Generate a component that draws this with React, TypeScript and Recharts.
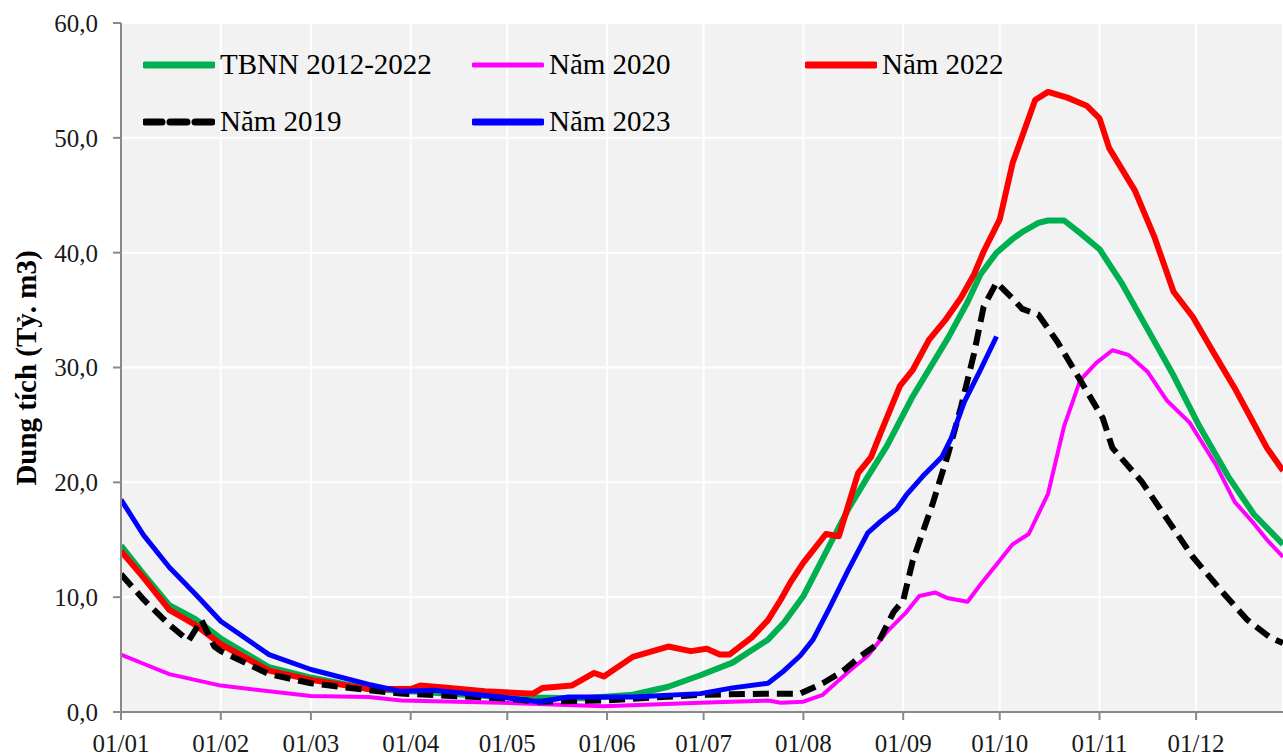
import React from 'react';
import { LineChart, Line, XAxis, YAxis, CartesianGrid, Legend } from 'recharts';

// day-of-year positions of the month ticks and their labels
const monthDays = [0, 31, 59, 90, 120, 151, 181, 212, 243, 273, 304, 334];
const monthLabels = ['01/01', '01/02', '01/03', '01/04', '01/05', '01/06', '01/07', '01/08', '01/09', '01/10', '01/11', '01/12'];
const yTicks = [0, 10, 20, 30, 40, 50, 60];

// [day, volume]
const tbnn = [
  [0, 14.5], [7, 12.0], [15, 9.3], [23, 8.1], [31, 6.4], [46, 3.9], [59, 3.0], [77, 2.0], [90, 1.8],
  [118, 1.3], [144, 1.2], [159, 1.5], [170, 2.2], [180, 3.2], [190, 4.3], [201, 6.3], [206, 7.8],
  [212, 10.1], [221, 15.0], [226, 17.7], [232, 20.5], [238, 23.2], [246, 27.5],
  [257, 32.6], [263, 35.7], [267, 38.1], [272, 40.0], [277, 41.2], [280, 41.8], [285, 42.6],
  [288, 42.8], [293, 42.8], [298, 41.7], [304, 40.3], [311, 37.3], [319, 33.3], [327, 29.3],
  [335, 24.9], [344, 20.5], [352, 17.2], [361, 14.6],
];
const nam2020 = [
  [0, 5.0], [7, 4.2], [15, 3.3], [23, 2.8], [31, 2.3], [46, 1.8], [59, 1.4], [77, 1.3], [87, 1.0],
  [118, 0.8], [150, 0.5], [180, 0.8], [201, 1.0], [205, 0.8], [212, 0.9], [218, 1.5], [226, 3.5],
  [232, 4.9], [238, 7.0], [244, 8.7], [248, 10.1], [253, 10.4], [257, 9.9], [263, 9.6], [267, 11.1],
  [273, 13.2], [277, 14.6], [282, 15.5], [288, 19.0], [293, 24.9], [298, 28.9], [303, 30.4],
  [308, 31.5], [313, 31.1], [319, 29.6], [325, 27.1], [332, 25.2], [340, 21.6], [346, 18.3],
  [352, 16.4], [356, 15.0], [361, 13.5],
];
const nam2022 = [
  [0, 14.0], [7, 11.7], [15, 8.9], [23, 7.6], [31, 5.9], [46, 3.6], [59, 2.8], [77, 2.0], [90, 2.0],
  [93, 2.3], [102, 2.1], [113, 1.8], [128, 1.6], [131, 2.1], [140, 2.3], [147, 3.4], [150, 3.1],
  [159, 4.8], [170, 5.7], [177, 5.3], [182, 5.5], [186, 5.0], [189, 5.0], [196, 6.5], [201, 8.0],
  [205, 9.8], [208, 11.3], [212, 13.0], [219, 15.5], [223, 15.3], [229, 20.8], [233, 22.2],
  [236, 24.3], [242, 28.4], [246, 29.8], [251, 32.4], [256, 34.1], [261, 36.1], [265, 38.1],
  [268, 40.1], [273, 42.9], [277, 47.8], [284, 53.3], [288, 54.0], [294, 53.5], [300, 52.8],
  [304, 51.7], [307, 49.1], [315, 45.4], [321, 41.4], [327, 36.6], [333, 34.4], [339, 31.5],
  [346, 28.2], [351, 25.6], [356, 23.0], [361, 21.0],
];
const nam2019 = [
  [0, 12.0], [7, 9.8], [15, 7.6], [21, 6.2], [25, 8.0], [29, 5.7], [31, 5.3], [46, 3.3], [59, 2.5],
  [77, 1.9], [87, 1.6], [118, 1.2], [130, 0.9], [150, 1.0], [180, 1.5], [201, 1.6], [211, 1.6],
  [218, 2.5], [224, 3.5], [230, 4.9], [235, 5.9], [240, 8.7], [243, 9.7], [246, 13.2], [252, 18.0],
  [257, 22.5], [261, 26.6], [265, 31.2], [268, 35.3], [272, 37.4], [277, 36.0], [280, 35.1],
  [285, 34.6], [291, 32.2], [298, 28.9], [305, 25.6], [308, 23.0], [317, 20.1], [325, 16.8],
  [333, 13.5], [342, 10.5], [350, 8.0], [357, 6.5], [361, 6.0],
];
const nam2023 = [
  [0, 18.5], [7, 15.4], [15, 12.6], [23, 10.3], [31, 7.9], [46, 5.0], [59, 3.7], [77, 2.4], [87, 1.8],
  [97, 1.9], [118, 1.3], [130, 0.9], [139, 1.3], [159, 1.3], [180, 1.6], [190, 2.1], [201, 2.5],
  [206, 3.6], [211, 4.9], [215, 6.3], [220, 9.0], [226, 12.4], [232, 15.6], [236, 16.6], [241, 17.7],
  [244, 18.9], [249, 20.5], [255, 22.2], [258, 23.9], [262, 27.0], [267, 29.8], [272, 32.7],
];

const toRows = (pts: number[][]) => pts.map(([d, v]) => ({ d, v }));

const FONT = '"Liberation Serif", "Times New Roman", serif';

const series = [
  { key: 'tbnn', name: 'TBNN 2012-2022', data: tbnn, color: '#00b050', width: 6, dash: undefined },
  { key: 'n2020', name: 'Năm 2020', data: nam2020, color: '#ff00ff', width: 4, dash: undefined },
  { key: 'n2022', name: 'Năm 2022', data: nam2022, color: '#ff0000', width: 6, dash: undefined },
  { key: 'n2019', name: 'Năm 2019', data: nam2019, color: '#000000', width: 6, dash: '16 8' },
  { key: 'n2023', name: 'Năm 2023', data: nam2023, color: '#0000ff', width: 5, dash: undefined },
];

const colWidths = [329, 333, 330];

function LegendBox() {
  const rows = [series.slice(0, 3), series.slice(3)];
  return (
    <div style={{ fontFamily: FONT, fontSize: 29, color: '#000' }}>
      {rows.map((row, ri) => (
        <div key={ri} style={{ display: 'flex', height: 57, alignItems: 'center' }}>
          {row.map((s, ci) => (
            <div key={s.key} style={{ width: colWidths[ci], display: 'flex', alignItems: 'center' }}>
              <svg width={72} height={12} style={{ display: 'block' }}>
                <line
                  x1={2}
                  y1={6}
                  x2={70}
                  y2={6}
                  stroke={s.color}
                  strokeWidth={s.key === 'n2020' ? 5 : 7}
                  strokeLinecap="round"
                  strokeDasharray={s.dash ? '17 8' : undefined}
                />
              </svg>
              <span style={{ marginLeft: 5, lineHeight: 1 }}>{s.name}</span>
            </div>
          ))}
        </div>
      ))}
    </div>
  );
}

function YTitle() {
  return (
    <text
      transform="translate(36,368) rotate(-90)"
      textAnchor="middle"
      fontFamily={FONT}
      fontSize={29}
      fontWeight="bold"
      fill="#000"
    >
      Dung tích (Tỷ. m3)
    </text>
  );
}

export default function App() {
  const tick = { fill: '#1a1a1a', fontSize: 25, fontFamily: FONT };
  return (
    <div style={{ position: 'absolute', left: 0, top: 0, width: 1283, height: 756, background: '#fff' }}>
      <LineChart width={1283} height={756} margin={{ top: 23, right: 0, left: 0, bottom: 0 }}>
        <CartesianGrid stroke="#ffffff" strokeWidth={2} fill="#f2f2f2" />
        <XAxis
          type="number"
          dataKey="d"
          domain={[0, 361]}
          ticks={monthDays}
          allowDataOverflow
          tickFormatter={(v: number) => monthLabels[monthDays.indexOf(v)]}
          height={44}
          tick={tick}
          tickSize={8}
          tickMargin={14}
          stroke="#898989"
          strokeWidth={2}
          interval={0}
        />
        <YAxis
          type="number"
          domain={[0, 60]}
          ticks={yTicks}
          width={121}
          tick={tick}
          tickSize={8}
          tickMargin={15}
          stroke="#898989"
          strokeWidth={2}
          tickFormatter={(v: number) => v.toFixed(1).replace('.', ',')}
          label={<YTitle />}
          interval={0}
        />
        <Legend
          layout="horizontal"
          verticalAlign="middle"
          align="center"
          content={() => <LegendBox />}
          wrapperStyle={{ top: 36, left: 143, width: 1000, height: 114 }}
        />
        {series.map((s) => (
          <Line
            key={s.key}
            data={toRows(s.data)}
            dataKey="v"
            name={s.name}
            type="linear"
            stroke={s.color}
            strokeWidth={s.width}
            strokeDasharray={s.dash}
            strokeLinejoin="round"
            dot={false}
            activeDot={false}
            isAnimationActive={false}
          />
        ))}
      </LineChart>
    </div>
  );
}
